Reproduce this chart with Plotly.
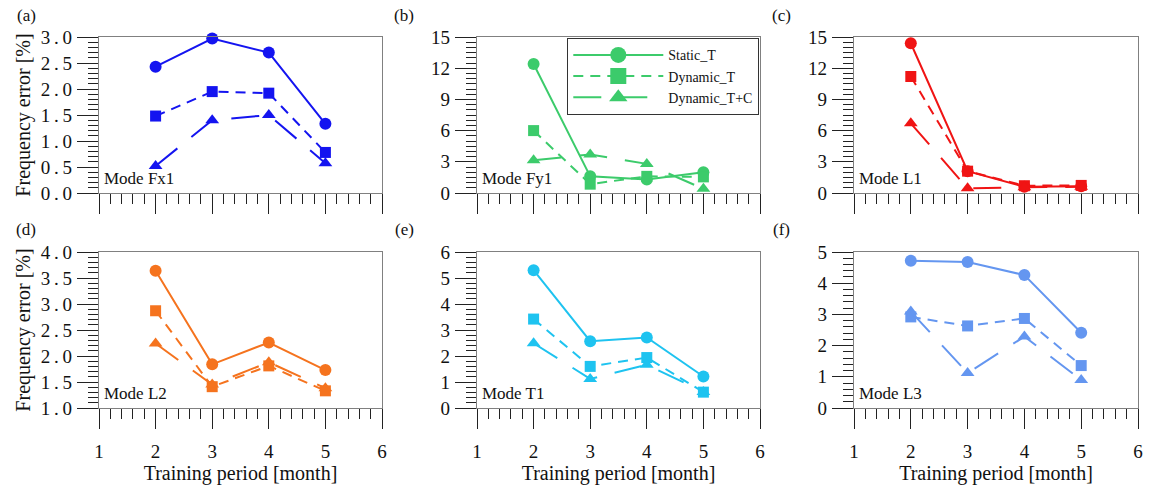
import plotly.graph_objects as go

# ---------------- data ----------------
months = [2, 3, 4, 5]
series_names = ["Static_T", "Dynamic_T", "Dynamic_T+C"]

panel_letters = ["(a)", "(b)", "(c)", "(d)", "(e)", "(f)"]
mode_names = ["Mode Fx1", "Mode Fy1", "Mode L1", "Mode L2", "Mode T1", "Mode L3"]
panel_colors = ["#1414F0", "#3CCB6B", "#F01414", "#F5731E", "#1EC3F0", "#6496F0"]

# y-axis settings per panel
y_ranges = [[0, 3], [0, 15], [0, 15], [1, 4], [0, 6], [0, 5]]
y_minor = [0.1, 0.5, 0.5, 0.1, 0.2, 0.2]
y_tickvals = [
    [0, 0.5, 1, 1.5, 2, 2.5, 3],
    [0, 3, 6, 9, 12, 15],
    [0, 3, 6, 9, 12, 15],
    [1, 1.5, 2, 2.5, 3, 3.5, 4],
    [0, 1, 2, 3, 4, 5, 6],
    [0, 1, 2, 3, 4, 5],
]
y_ticktexts = [
    ["0.0", "0.5", "1.0", "1.5", "2.0", "2.5", "3.0"],
    ["0", "3", "6", "9", "12", "15"],
    ["0", "3", "6", "9", "12", "15"],
    ["1.0", "1.5", "2.0", "2.5", "3.0", "3.5", "4.0"],
    ["0", "1", "2", "3", "4", "5", "6"],
    ["0", "1", "2", "3", "4", "5"],
]
x_tickvals = [1, 2, 3, 4, 5, 6]
x_ticktext = ["1", "2", "3", "4", "5", "6"]

fx1_static = [2.43, 2.97, 2.70, 1.33]
fx1_dyn = [1.48, 1.95, 1.92, 0.78]
fx1_dyntc = [0.52, 1.40, 1.50, 0.57]

fy1_static = [12.4, 1.6, 1.3, 2.0]
fy1_dyn = [6.0, 0.85, 1.6, 1.55]
fy1_dyntc = [3.15, 3.7, 2.8, 0.4]

l1_static = [14.4, 2.1, 0.6, 0.65]
l1_dyn = [11.2, 2.1, 0.7, 0.73]
l1_dyntc = [6.7, 0.45, 0.55, 0.6]

l2_static = [3.64, 1.84, 2.26, 1.73]
l2_dyn = [2.87, 1.41, 1.81, 1.33]
l2_dyntc = [2.24, 1.45, 1.88, 1.38]

t1_static = [5.30, 2.57, 2.71, 1.21]
t1_dyn = [3.42, 1.60, 1.94, 0.61]
t1_dyntc = [2.49, 1.12, 1.66, 0.62]

l3_static = [4.72, 4.68, 4.26, 2.41]
l3_dyn = [2.92, 2.63, 2.87, 1.36]
l3_dyntc = [3.09, 1.12, 2.29, 0.90]

panel_data = [
    [fx1_static, fx1_dyn, fx1_dyntc],
    [fy1_static, fy1_dyn, fy1_dyntc],
    [l1_static, l1_dyn, l1_dyntc],
    [l2_static, l2_dyn, l2_dyntc],
    [t1_static, t1_dyn, t1_dyntc],
    [l3_static, l3_dyn, l3_dyntc],
]


def spaced(label):
    # the reference draws decimal labels with visible gaps around the point
    return label.replace(".", "\u2009.\u2009")


# ---------------- styling ----------------
W, H = 1150, 486
FONT = "Liberation Serif"
symbols = ["circle", "square", "triangle-up"]
dashes = ["solid", "10px,7px", "28px,18px"]
msizes = [12, 11, 12]

col_px = [(99, 382), (477, 760), (854, 1138)]
row_px = [(37, 193), (252, 408)]

fig = go.Figure()

for i in range(6):
    r, c = divmod(i, 3)
    ax = "" if i == 0 else str(i + 1)
    xa, ya = "x" + ax, "y" + ax
    for k in range(3):
        fig.add_trace(go.Scatter(
            x=months, y=panel_data[i][k], xaxis=xa, yaxis=ya,
            mode="lines+markers", name=series_names[k], showlegend=False,
            line=dict(color=panel_colors[i], width=2, dash=dashes[k]),
            marker=dict(symbol=symbols[k], size=msizes[k], color=panel_colors[i]),
            cliponaxis=False,
        ))

    xdom = [col_px[c][0] / W, col_px[c][1] / W]
    ydom = [1 - row_px[r][1] / H, 1 - row_px[r][0] / H]
    xaxis = dict(
        domain=xdom, range=[1, 6], tickmode="array", tickvals=x_tickvals,
        ticktext=x_ticktext, ticks="outside", ticklen=20, tickwidth=1.3, tickcolor="#222",
        minor=dict(dtick=0.2, tick0=1, ticks="outside", ticklen=10, tickwidth=1.3, tickcolor="#222"),
        showline=True, linecolor="#808080", linewidth=1.3, mirror=True, showgrid=False,
        zeroline=False, anchor=ya, showticklabels=(r == 1), automargin=False,
        tickfont=dict(family=FONT, size=19, color="#111"), ticklabelstandoff=6,
    )
    if r == 1:
        xaxis["title"] = dict(text="Training period [month]", font=dict(family=FONT, size=20, color="#111"), standoff=4)
    yaxis = dict(
        domain=ydom, range=y_ranges[i], tickmode="array", tickvals=y_tickvals[i],
        ticktext=[spaced(t) for t in y_ticktexts[i]],
        ticks="outside", ticklen=21, tickwidth=1.3, tickcolor="#222",
        minor=dict(dtick=y_minor[i], tick0=y_ranges[i][0], ticks="outside", ticklen=10,
                   tickwidth=1.3, tickcolor="#222"),
        showline=True, linecolor="#808080", linewidth=1.3, mirror=True, showgrid=False,
        zeroline=False, anchor=xa, automargin=False,
        tickfont=dict(family=FONT, size=19, color="#111"), ticklabelstandoff=1,
    )
    if c == 0:
        yaxis["title"] = dict(text="Frequency error [%]", font=dict(family=FONT, size=20, color="#111"), standoff=4)
    fig.layout["xaxis" + ax] = xaxis
    fig.layout["yaxis" + ax] = yaxis

    fig.add_annotation(text=mode_names[i], xref=xa + " domain", yref=ya + " domain",
                       x=0.01, y=0.02, xanchor="left", yanchor="bottom", showarrow=False,
                       font=dict(family=FONT, size=17, color="#111"))
    fig.add_annotation(text=panel_letters[i], xref="paper", yref="paper",
                       x=(col_px[c][0] - 73) / W, y=1 - (row_px[r][0] - 22) / H,
                       xanchor="center", yanchor="middle", showarrow=False,
                       font=dict(family=FONT, size=17, color="#111"))

# legend entries (panel b style)
for k in range(3):
    fig.add_trace(go.Scatter(
        x=[None], y=[None], xaxis="x2", yaxis="y2", mode="lines+markers",
        name=series_names[k], showlegend=True,
        line=dict(color=panel_colors[1], width=2, dash=dashes[k]),
        marker=dict(symbol=symbols[k], size=20, color=panel_colors[1]),
    ))

fig.update_layout(
    width=W, height=H, margin=dict(l=0, r=0, t=0, b=0, autoexpand=False),
    paper_bgcolor="white", plot_bgcolor="white",
    font=dict(family=FONT, color="#111"),
    legend=dict(x=567 / W, y=1 - 38 / H, xanchor="left", yanchor="top",
                bgcolor="white", bordercolor="#333", borderwidth=1.3,
                font=dict(family=FONT, size=14, color="#111"),
                itemwidth=90, tracegroupgap=0, itemsizing="trace"),
)

fig.write_html(
    "out.html",
    config={"displayModeBar": False},
    post_script="document.body.style.margin='0';document.body.style.overflow='hidden';",
)
